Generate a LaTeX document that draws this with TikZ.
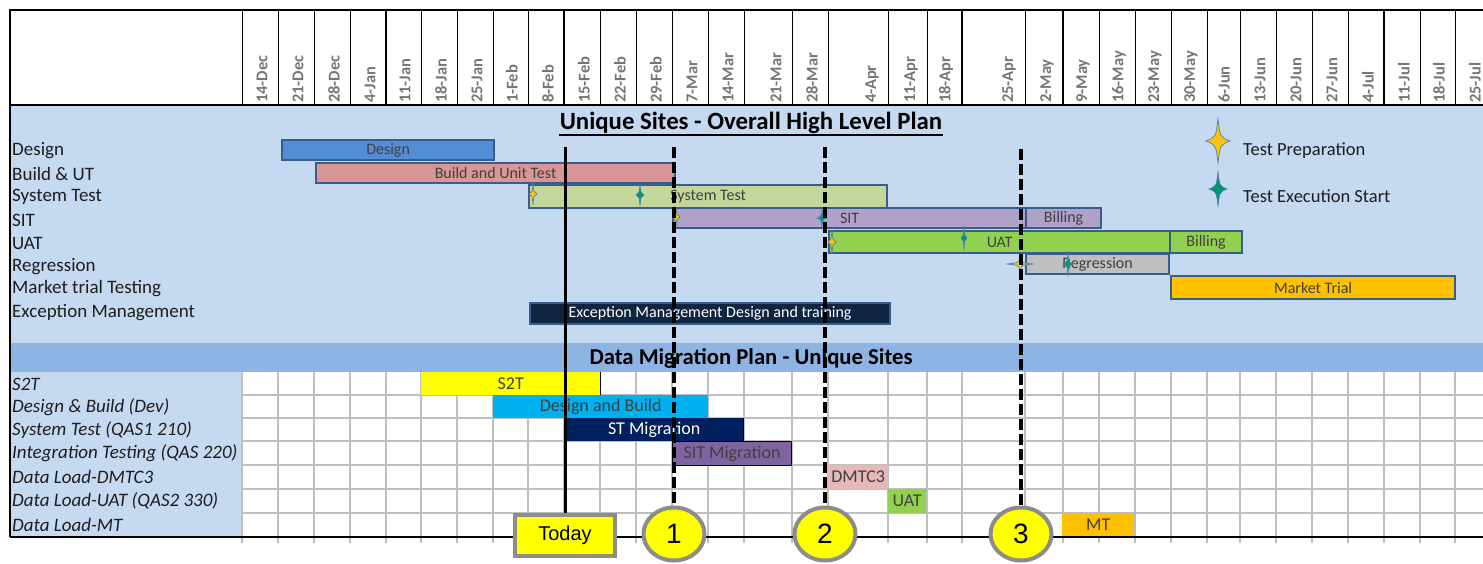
\documentclass[tikz,border=0pt]{standalone}
\usepackage{fontspec}
\setmainfont{Carlito}
\newfontfamily\arialfont{Liberation Sans}
\usetikzlibrary{positioning,shapes.geometric}
\definecolor{PlanBand}{RGB}{197,217,241}
\definecolor{MigBand}{RGB}{141,180,226}
\definecolor{DateGrey}{RGB}{118,118,118}
\definecolor{GridGrey}{RGB}{191,191,191}
\definecolor{BarEdge}{RGB}{56,93,138}
\definecolor{BarText}{RGB}{64,64,64}
\definecolor{LabelInk}{RGB}{30,30,30}
\definecolor{DesignBlue}{RGB}{83,141,213}
\definecolor{BuildRose}{RGB}{218,150,148}
\definecolor{TestOlive}{RGB}{196,215,155}
\definecolor{SitLilac}{RGB}{177,160,199}
\definecolor{UatGreen}{RGB}{146,208,80}
\definecolor{RegGrey}{RGB}{191,191,191}
\definecolor{TrialAmber}{RGB}{255,192,0}
\definecolor{ExcNavy}{RGB}{16,37,63}
\definecolor{S2TYellow}{RGB}{255,255,0}
\definecolor{BuildCyan}{RGB}{0,176,240}
\definecolor{StNavy}{RGB}{0,32,96}
\definecolor{SitPurple}{RGB}{128,100,162}
\definecolor{DmtcPink}{RGB}{230,184,183}
\definecolor{MarkGrey}{RGB}{140,140,140}
\definecolor{StarEdge}{RGB}{79,129,189}
\definecolor{StarGold}{RGB}{255,196,0}
\definecolor{StarGreen}{RGB}{0,150,110}
\tikzset{
  rowlabel/.style={anchor=west,inner sep=0pt,text=LabelInk,
    font=\fontsize{19}{19}\selectfont},
  miglabel/.style={anchor=west,inner sep=0pt,text=LabelInk,
    font=\fontsize{19}{19}\selectfont\itshape},
  datelabel/.style={rotate=90,anchor=west,inner sep=0pt,text=DateGrey,
    font=\fontsize{16.5}{16.5}\selectfont\bfseries},
  sectiontitle/.style={inner sep=1pt,font=\fontsize{24.8}{24.8}\selectfont\bfseries},
  legendtext/.style={anchor=west,inner sep=0pt,text=LabelInk,
    font=\fontsize{18.5}{18.5}\selectfont},
  planbar/.style={draw=BarEdge,line width=2.2pt,anchor=north west,inner sep=0pt,
    text=BarText,font=\fontsize{16}{16}\selectfont},
  migbar/.style={anchor=north west,inner sep=0pt,text=BarText,
    font=\fontsize{18}{18}\selectfont},
  headrule/.style={line width=0.9pt},
  gridrule/.style={draw=GridGrey,line width=1.4pt},
  todaybox/.style={draw=MarkGrey,fill=S2TYellow,line width=4pt,
    minimum width=100,minimum height=41,inner sep=0pt,
    font=\arialfont\fontsize{20}{20}\selectfont},
  gatemark/.style={ellipse,draw=MarkGrey,fill=S2TYellow,line width=4pt,
    minimum width=61,minimum height=53,inner sep=0pt,
    font=\arialfont\fontsize{28}{28}\selectfont},
  todayline/.style={line width=3pt},
  gateline/.style={line width=3.5pt,dash pattern=on 11pt off 4pt}
}
\newcommand{\planstar}[4]{%
  \filldraw[fill=#2,draw=StarEdge,line width=0.7pt,shift={(#1)}]
    (0,-#4) .. controls ({0.18*#3},{-0.18*#4}) .. (#3,0)
    .. controls ({0.18*#3},{0.18*#4}) .. (0,#4)
    .. controls ({-0.18*#3},{0.18*#4}) .. (-#3,0)
    .. controls ({-0.18*#3},{-0.18*#4}) .. cycle;}

\begin{document}
\begin{tikzpicture}[x=1pt,y=-1pt]
  \useasboundingbox (0,0) rectangle (1483,563);
  % bands
  \fill[white] (10,10) rectangle (1483,105);
  \fill[PlanBand] (10,105) rectangle (1483,343);
  \fill[MigBand] (10,343) rectangle (1483,372);
  \fill[PlanBand] (10,372) rectangle (242,537);
  \fill[white] (242,372) rectangle (1483,537);
  % migration grid
  \foreach \yr in {395,418,441,465,489,513}
    \draw[gridrule] (242,\yr) -- (1483,\yr);
  \foreach \xb in {242,278,314,350,386,421,457,493,528,564,600,636,672,708,
      744,792,828,888,927,962,1025,1063,1099,1135,1171,1207,1240,1276,1312,
      1348,1384,1420,1455}
    \draw[gridrule] (\xb,372) -- (\xb,543);
  % week header
  \foreach \xb in {242,278,314,350,421,457,493,528,600,636,672,708,744,792,
      828,888,927,1025,1099,1135,1171,1207,1240,1276,1312,1348,1420,1455}
    \draw[headrule] (\xb,10) -- (\xb,105);
  \foreach \xb in {386,564,962,1063,1384}
    \draw[line width=2pt] (\xb,10) -- (\xb,105);
  \draw[line width=1.2pt] (1483,10) -- (10,10) -- (10,537);
  \draw[line width=2pt] (10,105) -- (1483,105);
  \draw[line width=2pt] (10,537) -- (1483,537);
  \foreach \xr/\day [count=\i] in {278/14-Dec,314/21-Dec,350/28-Dec,386/4-Jan,
      421/11-Jan,457/18-Jan,493/25-Jan,528/1-Feb,564/8-Feb,600/15-Feb,
      636/22-Feb,672/29-Feb,708/7-Mar,744/14-Mar,792/21-Mar,828/28-Mar,
      888/4-Apr,927/11-Apr,962/18-Apr,1025/25-Apr,1063/2-May,1099/9-May,
      1135/16-May,1171/23-May,1207/30-May,1240/6-Jun,1276/13-Jun,1312/20-Jun,
      1348/27-Jun,1384/4-Jul,1420/11-Jul,1455/18-Jul,1491/25-Jul}
    \node[datelabel] (date\i) at (\xr-16,103) {\day};

  % titles
  \node[sectiontitle] (plantitle) at (751,123) {Unique Sites - Overall High Level Plan};
  \draw[line width=1.3pt] (plantitle.south west) -- (plantitle.south east);
  \node[sectiontitle,font=\fontsize{22.7}{22.7}\selectfont\bfseries] (migtitle) at (751,358)
    {Data Migration Plan - Unique Sites};

  % plan rows
  \node[rowlabel] (lbldesign) at (12,151) {Design};
  \node[rowlabel] (lblbuild) at (12,174) {Build \& UT};
  \node[rowlabel] (lblsystest) at (12,197) {System Test};
  \node[rowlabel] (lblsit) at (12,220) {SIT};
  \node[rowlabel] (lbluat) at (12,243) {UAT};
  \node[rowlabel] (lblregr) at (12,267) {Regression};
  \node[rowlabel] (lbltrial) at (12,289) {Market trial Testing};
  \node[rowlabel] (lblexc) at (12,313) {Exception Management};

  \node[planbar,fill=DesignBlue,minimum width=212,minimum height=20] (design) at (281,139) {Design};
  \node[planbar,fill=BuildRose,minimum width=359,minimum height=20] (build) at (315,162) {Build and Unit Test};
  \node[planbar,fill=TestOlive,minimum width=358,minimum height=23] (systest) at (528,184) {System Test};
  \node[planbar,fill=SitLilac,minimum width=353,minimum height=20] (sit) at (672,207) {SIT};
  \node[planbar,fill=SitLilac,minimum width=75,minimum height=20] (sitbill) at (1025,207) {Billing};
  \node[planbar,fill=UatGreen,minimum width=341,minimum height=22] (uat) at (828,230) {UAT};
  \node[planbar,fill=UatGreen,minimum width=72,minimum height=22] (uatbill) at (1169,230) {Billing};
  \node[planbar,fill=RegGrey,minimum width=143,minimum height=20] (regr) at (1025,253) {Regression};
  \node[planbar,fill=TrialAmber,minimum width=284,minimum height=23] (trial) at (1170,275) {Market Trial};
  \node[planbar,fill=ExcNavy,text=white,minimum width=360,minimum height=21,
    font=\fontsize{16}{16}\selectfont] (exc) at (529,302) {Exception Management Design and training};

  % test markers
  \planstar{533,194}{StarGold}{4}{11}
  \planstar{640,195}{StarGreen}{4}{11}
  \planstar{676,217}{StarGold}{4}{10}
  \planstar{822,218}{StarGreen}{5}{8}
  \planstar{832,242}{StarGold}{4}{12}
  \planstar{964,238}{StarGreen}{3}{12}
  \planstar{1020,264}{StarGold}{14}{5}
  \planstar{1068,264}{StarGreen}{5}{10}

  % legend
  \planstar{1218,141}{StarGold}{12}{22}
  \planstar{1218,189}{StarGreen}{9}{17}
  \node[legendtext] (legprep) at (1243,151) {Test Preparation};
  \node[legendtext] (legexec) at (1243,196) {Test Execution Start};

  % migration rows
  \node[miglabel] (lbls2t) at (12,384) {S2T};
  \node[miglabel] (lbldev) at (12,407) {Design \& Build (Dev)};
  \node[miglabel] (lblqas1) at (12,430) {System Test (QAS1 210)};
  \node[miglabel] (lblqas) at (12,453) {Integration Testing (QAS 220)};
  \node[miglabel] (lbldmtc) at (12,477) {Data Load-DMTC3};
  \node[miglabel] (lblqas2) at (12,501) {Data Load-UAT (QAS2 330)};
  \node[miglabel] (lblmt) at (12,525) {Data Load-MT};

  \node[migbar,fill=S2TYellow,minimum width=179,minimum height=23] (s2t) at (421,372) {S2T};
  \draw[line width=1.5pt] (s2t.north east) -- (s2t.south east);
  \node[migbar,fill=BuildCyan,minimum width=215,minimum height=23] (devbuild) at (493,395) {Design and Build};
  \node[migbar,fill=StNavy,text=white,minimum width=178,minimum height=23] (stmig) at (565,418) {ST Migration};
  \draw[line width=1.5pt] (stmig.north east) -- (stmig.south east);
  \node[migbar,fill=SitPurple,draw=black,line width=1pt,minimum width=119,minimum height=24] (sitmig) at (672,441) {SIT Migration};
  \node[migbar,fill=DmtcPink,minimum width=60,minimum height=24] (dmtc) at (828,465) {DMTC3};
  \node[migbar,fill=UatGreen,minimum width=38,minimum height=24] (uatload) at (888,489) {UAT};
  \node[migbar,fill=TrialAmber,minimum width=72,minimum height=23] (mtload) at (1062,513) {MT};

  % today and gates
  \node[todaybox] (today) at (565,535) {Today};
  \node[gatemark] (gate1) at (674,534) {1};
  \node[gatemark] (gate2) at (825,534) {2};
  \node[gatemark] (gate3) at (1021,534) {3};
  \coordinate (todaytop) at (565,147);
  \coordinate (gate1top) at (674,147);
  \coordinate (gate2top) at (825,147);
  \coordinate (gate3top) at (1021,149);
  \draw[todayline] (todaytop) -- (today.north);
  \draw[gateline] (gate1top) -- (gate1.north);
  \draw[gateline] (gate2top) -- (gate2.north);
  \draw[gateline] (gate3top) -- (gate3.north);
\end{tikzpicture}
\end{document}
